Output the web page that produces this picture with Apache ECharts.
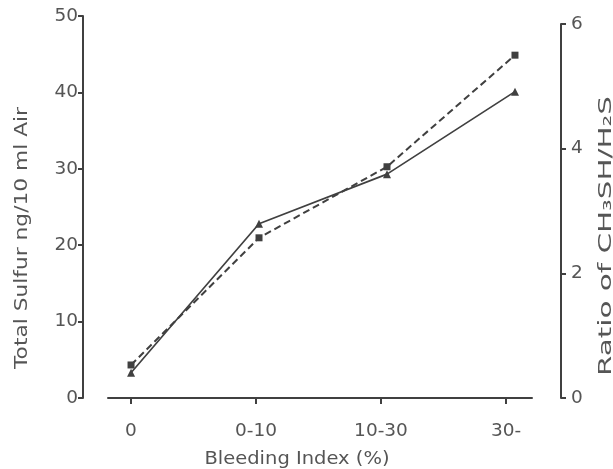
<!DOCTYPE html>
<html>
<head>
<meta charset="utf-8">
<script src="https://cdn.jsdelivr.net/npm/echarts@6/dist/echarts.min.js"></script>
<style>
html,body{margin:0;padding:0;background:#fff;}
#chart{width:613px;height:469px;}
</style>
</head>
<body>
<div id="chart"></div>
<script>
// ---- data ----
var categories = ['0', '0-10', '10-30', '30-'];
var categoryIndex = [0, 1, 2, 3];
var totalSulfur = [3.3, 22.8, 29.3, 40.1];      // left axis, solid line, triangles
var ratioCH3SH = [0.53, 2.57, 3.71, 5.50];      // right axis, dashed line, squares
var leftTicks = [0, 10, 20, 30, 40, 50];
var rightTicks = [0, 2, 4, 6];
var xTitle = 'Bleeding Index (%)';
var leftTitle = 'Total Sulfur ng/10 ml Air';
var rightTitle = 'Ratio of CH\u2083SH/H\u2082S';

var ink = '#404040';
var textColor = '#555';
var fontFamily = '"DejaVu Sans", Verdana, sans-serif';
var fs = 18.5;

function pairs(xs, ys) { return xs.map(function (x, i) { return [x, ys[i]]; }); }

// stretch factor so a title spans a given length (the scanned type is wide-set)
var ctx = document.createElement('canvas').getContext('2d');
function stretch(text, size, target) {
  ctx.font = size + 'px ' + fontFamily;
  return target / ctx.measureText(text).width;
}
function title(text, x, y, rot, size, target) {
  return {
    type: 'text', x: x, y: y, rotation: rot, scaleX: stretch(text, size, target), scaleY: 1,
    style: {text: text, fill: textColor, font: size + 'px ' + fontFamily, align: 'center', verticalAlign: 'middle'}
  };
}

var labelStyle = {color: textColor, fontSize: fs, fontFamily: fontFamily};

var chart = echarts.init(document.getElementById('chart'), null, {renderer: 'canvas'});
chart.setOption({
  backgroundColor: '#fff',
  animation: false,
  grid: [
    {left: 108, right: 81, top: 16, bottom: 71},
    {left: 108, right: 81, top: 24, bottom: 71}
  ],
  xAxis: [
    {
      type: 'value', gridIndex: 0, min: -0.184, max: 3.208,
      axisLine: {show: true, onZero: false, lineStyle: {color: ink, width: 2}},
      axisTick: {show: true, length: 6, customValues: categoryIndex, lineStyle: {color: ink, width: 2}},
      axisLabel: Object.assign({show: true, customValues: categoryIndex, margin: 24,
        formatter: function (v) { return categories[Math.round(v)]; }}, labelStyle),
      splitLine: {show: false}
    },
    {type: 'value', gridIndex: 0, min: -0.18, max: 3.133, show: false},
    {type: 'value', gridIndex: 1, min: -0.18, max: 3.133, show: false}
  ],
  yAxis: [
    {
      type: 'value', gridIndex: 0, position: 'left', offset: 25,
      min: leftTicks[0], max: leftTicks[leftTicks.length - 1], interval: 10,
      axisLine: {show: true, onZero: false, lineStyle: {color: ink, width: 2}},
      axisTick: {show: true, length: 5, lineStyle: {color: ink, width: 2}},
      axisLabel: Object.assign({margin: 5}, labelStyle),
      splitLine: {show: false}
    },
    {
      type: 'value', gridIndex: 1, position: 'right', offset: 29,
      min: rightTicks[0], max: rightTicks[rightTicks.length - 1], interval: 2,
      axisLine: {show: true, onZero: false, lineStyle: {color: ink, width: 2}},
      axisTick: {show: true, length: 5, lineStyle: {color: ink, width: 2}},
      axisLabel: Object.assign({margin: 10}, labelStyle),
      splitLine: {show: false}
    }
  ],
  graphic: [
    title(xTitle, 297, 459, 0, 18, 185),
    title(leftTitle, 22, 238, Math.PI / 2, 18, 262),
    title(rightTitle, 606, 236, Math.PI / 2, 18, 280)
  ],
  series: [
    {
      name: 'Total Sulfur', type: 'line', xAxisIndex: 1, yAxisIndex: 0,
      data: pairs(categoryIndex, totalSulfur),
      symbol: 'triangle', symbolSize: 8, clip: false,
      lineStyle: {color: ink, width: 1.7, type: 'solid'},
      itemStyle: {color: ink}
    },
    {
      name: 'Ratio', type: 'line', xAxisIndex: 2, yAxisIndex: 1,
      data: pairs(categoryIndex, ratioCH3SH),
      symbol: 'rect', symbolSize: 7, clip: false,
      lineStyle: {color: ink, width: 2, type: [7, 4]},
      itemStyle: {color: ink}
    }
  ]
});
</script>
</body>
</html>
